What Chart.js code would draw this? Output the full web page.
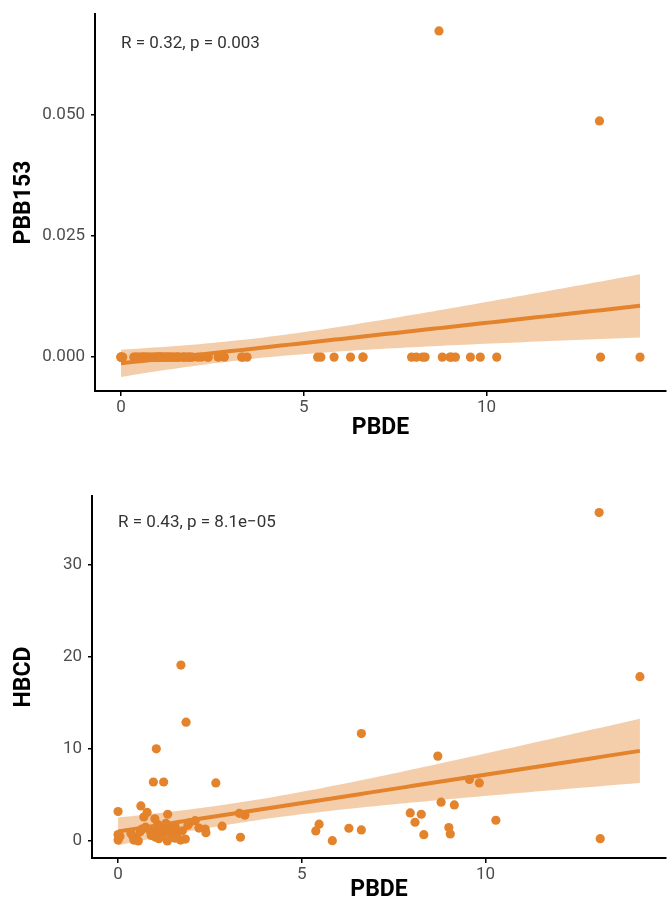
<!DOCTYPE html>
<html>
<head>
<meta charset="utf-8">
<script src="https://cdn.jsdelivr.net/npm/chart.js@4.4.0/dist/chart.umd.min.js"></script>
<style>
  html, body { margin: 0; padding: 0; background: #fff; }
  canvas { display: block; }
</style>
</head>
<body>
<canvas id="pbbChart" width="667" height="452"></canvas>
<canvas id="hbcdChart" width="667" height="452"></canvas>
<script>
// PBDE (same samples in both panels)
const pbde = [
  0.00, 0.00, 0.00, 0.02, 0.05, 0.35, 0.43, 0.50, 0.55, 0.60,
  0.62, 0.70, 0.79, 0.75, 0.85, 0.90, 0.96, 1.00, 1.02, 1.04,
  1.08, 1.11, 1.15, 1.20, 1.24, 1.30, 1.34, 1.35, 1.40, 1.45,
  1.50, 1.55, 1.60, 1.70, 1.71, 1.75, 1.83, 1.85, 1.90, 1.95,
  2.10, 2.20, 2.37, 2.39, 2.66, 2.83, 3.30, 3.33, 3.45, 0.40,
  0.65, 1.25, 1.10, 0.95, 1.55,
  5.38, 5.47, 5.83, 6.28, 6.62, 6.62, 7.95, 8.08, 8.25, 8.32,
  8.70, 8.79, 9.00, 9.04, 9.15, 9.56, 9.83, 10.28, 13.09, 13.12, 14.2
];

const pbb153 = [
  0, 0, 0, 0, 0, 0, 0, 0, 0, 0,
  0, 0, 0, 0, 0, 0, 0, 0, 0, 0,
  0, 0, 0, 0, 0, 0, 0, 0, 0, 0,
  0, 0, 0, 0, 0, 0, 0, 0, 0, 0,
  0, 0, 0, 0, 0, 0, 0, 0, 0, 0,
  0, 0, 0, 0, 0,
  0, 0, 0, 0, 0, 0, 0, 0, 0, 0,
  0.0674, 0, 0, 0, 0, 0, 0, 0, 0.0488, 0, 0
];

const hbcd = [
  3.2, 0.7, 0.1, 0.3, 0.5, 0.8, 0.1, 0.3, 0.0, 1.0,
  3.8, 2.6, 3.1, 1.5, 1.2, 0.6, 6.4, 2.4, 0.4, 10.0,
  1.8, 0.25, 1.0, 0.6, 6.4, 1.9, 0.0, 2.9, 0.9, 1.3,
  0.5, 1.6, 0.8, 0.1, 19.1, 1.1, 0.2, 12.9, 1.7, 2.0,
  2.2, 1.4, 1.3, 0.9, 6.3, 1.6, 3.0, 0.4, 2.8, 0.5,
  1.3, 1.2, 1.5, 0.9, 0.3,
  1.09, 1.82, 0.03, 1.38, 11.66, 1.20, 3.04, 2.03, 2.90, 0.68,
  9.21, 4.21, 1.45, 0.76, 3.91, 6.66, 6.30, 2.25, 35.65, 0.25, 17.83
];

// tick labels
const xTicks = [0, 5, 10];
const pbbTicks = [0, 0.025, 0.05];
const hbcdTicks = [0, 10, 20, 30];

const pbbLabel = 'R = 0.32, p = 0.003';
const hbcdLabel = 'R = 0.43, p = 8.1e\u221205';

const orange = '#E3832B';
const bandColor = 'rgba(227, 131, 43, 0.4)';

// linear fit + 95% band (like geom_smooth(method = "lm"))
function fitLm(xs, ys) {
  const n = xs.length;
  const mx = xs.reduce((a, b) => a + b, 0) / n;
  const my = ys.reduce((a, b) => a + b, 0) / n;
  let sxx = 0, sxy = 0;
  for (let i = 0; i < n; i++) {
    sxx += (xs[i] - mx) * (xs[i] - mx);
    sxy += (xs[i] - mx) * (ys[i] - my);
  }
  const b = sxy / sxx, a = my - b * mx;
  let sse = 0;
  for (let i = 0; i < n; i++) sse += Math.pow(ys[i] - a - b * xs[i], 2);
  const s = Math.sqrt(sse / (n - 2));
  const t = 1.993;
  const x0 = Math.min(...xs), x1 = Math.max(...xs);
  const line = [], lo = [], hi = [];
  for (let i = 0; i <= 80; i++) {
    const x = x0 + (x1 - x0) * i / 80;
    const yh = a + b * x;
    const se = s * Math.sqrt(1 / n + (x - mx) * (x - mx) / sxx);
    line.push({ x: x, y: yh });
    lo.push({ x: x, y: yh - t * se });
    hi.push({ x: x, y: yh + t * se });
  }
  return { line, lo, hi };
}

// annotation text in the top-left corner
const corText = {
  id: 'corText',
  afterDatasetsDraw(chart, args, opts) {
    const ctx = chart.ctx;
    ctx.save();
    ctx.font = '17px Roboto';
    ctx.fillStyle = '#333333';
    ctx.textBaseline = 'middle';
    ctx.fillText(opts.text, chart.scales.x.getPixelForValue(0), chart.chartArea.top + opts.dy);
    ctx.restore();
  }
};

function makeConfig(ys, yMin, yMax, yTicks, yTitle, fmt, label, dims) {
  const fit = fitLm(pbde, ys);
  return {
    type: 'scatter',
    data: {
      datasets: [
        { data: pbde.map((x, i) => ({ x: x, y: ys[i] })), backgroundColor: orange, borderWidth: 0, pointRadius: 4.6, order: 3 },
        { type: 'line', data: fit.lo, borderWidth: 0, pointRadius: 0, fill: false, order: 2 },
        { type: 'line', data: fit.hi, borderWidth: 0, pointRadius: 0, fill: '-1', backgroundColor: bandColor, order: 1 },
        { type: 'line', data: fit.line, borderColor: orange, borderWidth: 4, pointRadius: 0, fill: false, order: 0 }
      ]
    },
    options: {
      responsive: false,
      animation: false,
      layout: { autoPadding: false, padding: { left: 0, right: 1, top: dims.top, bottom: 0 } },
      scales: {
        x: {
          type: 'linear',
          min: -0.71,
          max: 14.91,
          afterBuildTicks: s => { s.ticks = xTicks.map(v => ({ value: v })); },
          afterFit: s => { s.height = dims.xh; s.paddingLeft = 0; s.paddingRight = 0; },
          ticks: { color: '#4D4D4D', font: { family: 'Roboto', size: 17 }, padding: 2 },
          grid: { drawOnChartArea: false, tickLength: 5, color: '#000', lineWidth: 1.5 },
          border: { color: '#000', width: 2 },
          title: { display: true, text: 'PBDE', color: '#000', font: { family: 'Roboto', size: 23, weight: 'bold' }, padding: { top: 0, bottom: dims.tb } }
        },
        y: {
          type: 'linear',
          min: yMin,
          max: yMax,
          afterBuildTicks: s => { s.ticks = yTicks.map(v => ({ value: v })); },
          afterFit: s => { s.width = dims.yw; s.paddingTop = 0; s.paddingBottom = 0; },
          ticks: { color: '#4D4D4D', font: { family: 'Roboto', size: 17 }, padding: 6, callback: fmt },
          grid: { drawOnChartArea: false, tickLength: 4, color: '#000', lineWidth: 1.5 },
          border: { color: '#000', width: 2 },
          title: { display: true, text: yTitle, color: '#000', font: { family: 'Roboto', size: 23, weight: 'bold' }, padding: { top: 10, bottom: 0 } }
        }
      },
      plugins: {
        legend: { display: false },
        tooltip: { enabled: false },
        corText: { text: label, dy: dims.dy }
      }
    },
    plugins: [corText]
  };
}

document.addEventListener('DOMContentLoaded', function() {
  new Chart(document.getElementById('pbbChart').getContext('2d'),
    makeConfig(pbb153, -0.0070, 0.0709, pbbTicks, 'PBB153', v => v.toFixed(3), pbbLabel,
      { top: 14, xh: 61, yw: 95, tb: 10, dy: 30 }));

  new Chart(document.getElementById('hbcdChart').getContext('2d'),
    makeConfig(hbcd, -1.85, 37.45, hbcdTicks, 'HBCD', v => String(v), hbcdLabel,
      { top: 44, xh: 46, yw: 92, tb: 0, dy: 27 }));
});
</script>
</body>
</html>
